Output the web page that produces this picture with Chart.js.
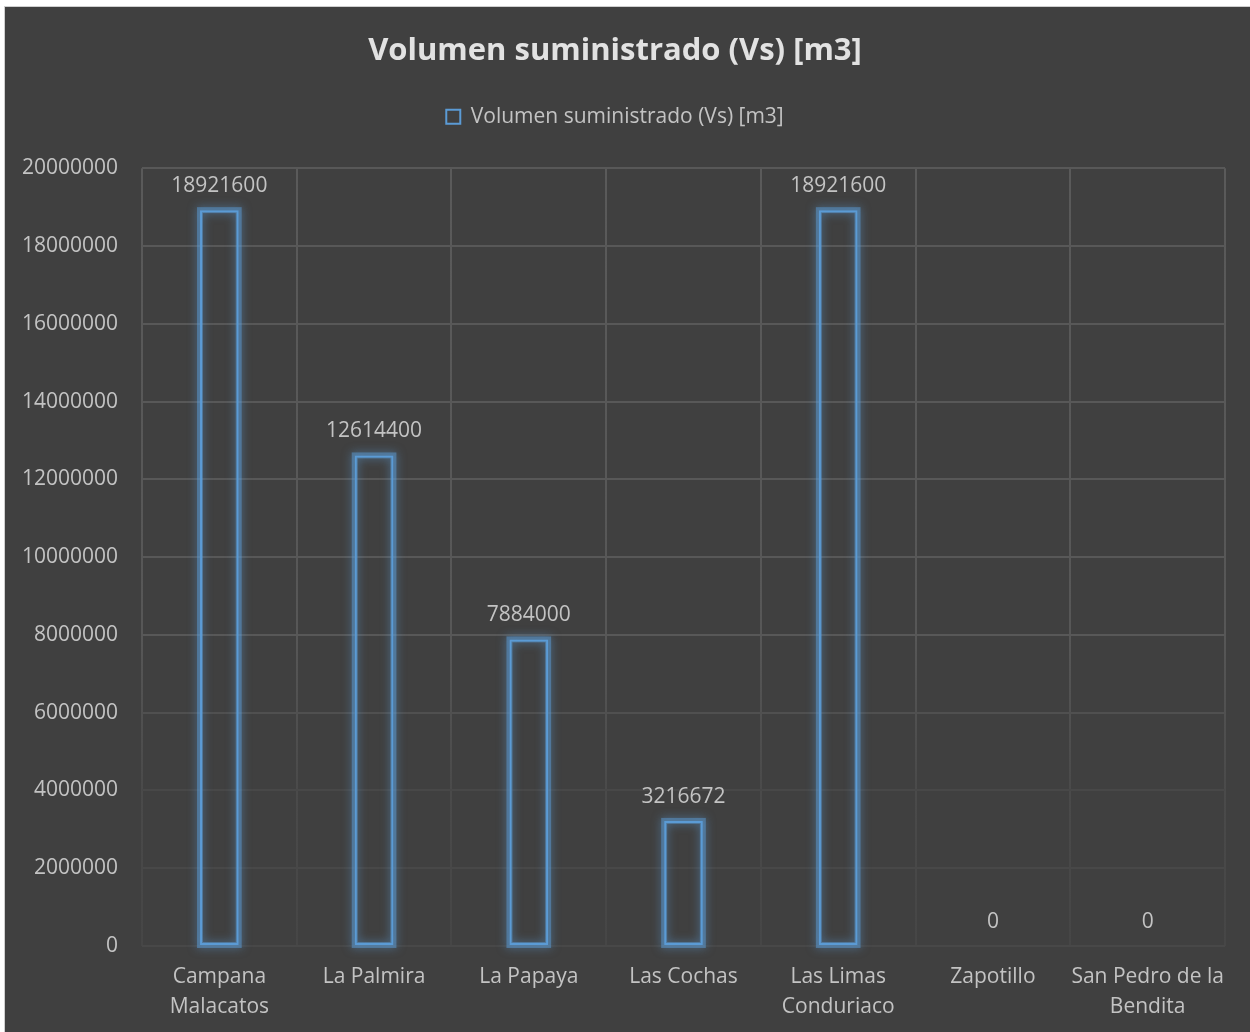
<!DOCTYPE html>
<html>
<head>
<meta charset="utf-8">
<script src="https://cdn.jsdelivr.net/npm/chart.js@4.4.1/dist/chart.umd.min.js"></script>
<style>
  html, body { margin: 0; padding: 0; background: #ffffff; }
  #frame {
    position: absolute; left: 4px; top: 6px;
    width: 1246px; height: 1026px;
    border-left: 1px solid #cfcfcf; border-top: 1px solid #cfcfcf;
    background: #404040;
  }
  #wrap { position: absolute; left: 0; top: 0; width: 1246px; height: 1026px; }
</style>
</head>
<body>
<div id="frame"><div id="wrap"><canvas id="volChart"></canvas></div></div>
<script>
var chartTitle = 'Volumen suministrado (Vs) [m3]';
var seriesName = 'Volumen suministrado (Vs) [m3]';
var plantas = [
    ['Campana', 'Malacatos'],
    'La Palmira',
    'La Papaya',
    'Las Cochas',
    ['Las Limas', 'Conduriaco'],
    'Zapotillo',
    ['San Pedro de la', 'Bendita']
];
var volumenes = [18921600, 12614400, 7884000, 3216672, 18921600, 0, 0];
var yMin = 0, yMax = 20000000, yStep = 2000000;

var blue = '#5b9bd5';
var textGray = '#c3c3c3';

// extra room under the legend
var legendSpace = {
    id: 'legendSpace',
    beforeInit: function (chart) {
        var fitLegend = chart.legend.fit;
        chart.legend.fit = function () {
            fitLegend.bind(chart.legend)();
            this.height += 31;
        };
    }
};

// soft glow behind each bar outline
var barGlow = {
    id: 'barGlow',
    beforeDatasetsDraw: function (chart) {
        var ctx = chart.ctx;
        var meta = chart.getDatasetMeta(0);
        ctx.save();
        meta.data.forEach(function (bar, i) {
            if (!volumenes[i]) return;
            var p = bar.getProps(['x', 'y', 'base', 'width'], true);
            var left = p.x - p.width / 2, top = Math.min(p.y, p.base);
            var h = Math.abs(p.base - p.y);
            ctx.shadowColor = 'rgba(91,155,213,1)';
            ctx.shadowBlur = 10;
            ctx.strokeStyle = 'rgba(91,155,213,0.5)';
            ctx.lineWidth = 6;
            ctx.strokeRect(left, top, p.width, h);
        });
        ctx.restore();
    }
};

// value labels above bars
var barValues = {
    id: 'barValues',
    afterDatasetsDraw: function (chart) {
        var ctx = chart.ctx;
        var meta = chart.getDatasetMeta(0);
        ctx.save();
        ctx.font = '21px "Open Sans"';
        ctx.fillStyle = textGray;
        ctx.textAlign = 'center';
        ctx.textBaseline = 'middle';
        meta.data.forEach(function (bar, i) {
            ctx.fillText(String(volumenes[i]), bar.x, bar.y - 24);
        });
        ctx.restore();
    }
};

var ctx = document.getElementById('volChart').getContext('2d');

new Chart(ctx, {
    type: 'bar',
    data: {
        labels: plantas,
        datasets: [{
            label: seriesName,
            data: volumenes,
            backgroundColor: 'rgba(0,0,0,0)',
            borderColor: blue,
            borderWidth: function (c) { return volumenes[c.dataIndex] ? 2 : 0; },
            borderSkipped: false,
            barPercentage: 0.5,
            categoryPercentage: 0.5
        }]
    },
    options: {
        responsive: true,
        maintainAspectRatio: false,
        animation: false,
        layout: { padding: { top: 0, right: 26, bottom: 0, left: 0 } },
        plugins: {
            title: {
                display: true,
                text: chartTitle,
                color: '#e2e2e2',
                font: { family: 'Open Sans', size: 31, weight: 'bold' },
                padding: { top: 26, bottom: 26 }
            },
            legend: {
                position: 'top',
                labels: {
                    color: textGray,
                    font: { family: 'Open Sans', size: 21 },
                    boxWidth: 14,
                    boxHeight: 14,
                    padding: 10
                }
            },
            tooltip: { enabled: false }
        },
        scales: {
            x: {
                grid: {
                    drawTicks: false,
                    color: function (c) {
                        var a = c.chart.chartArea;
                        if (!a) return '#585858';
                        var g = c.chart.ctx.createLinearGradient(0, a.top, 0, a.bottom);
                        g.addColorStop(0, '#5a5a5a');
                        g.addColorStop(0.6, '#575757');
                        g.addColorStop(0.8, '#4a4a4a');
                        g.addColorStop(1, '#464646');
                        return g;
                    },
                    lineWidth: 2
                },
                border: { display: false },
                ticks: {
                    color: textGray,
                    font: { family: 'Open Sans', size: 21, lineHeight: 1.43 },
                    padding: 16,
                    maxRotation: 0,
                    autoSkip: false
                },
                afterFit: function (scale) { scale.height = 87; }
            },
            y: {
                min: yMin,
                max: yMax,
                grid: {
                    drawTicks: false,
                    lineWidth: 2,
                    color: function (c) {
                        var v = c.tick ? c.tick.value : 0;
                        if (v >= 8000000) return '#585858';
                        if (v >= 6000000) return '#505050';
                        return '#484848';
                    }
                },
                border: { display: false },
                ticks: {
                    stepSize: yStep,
                    color: textGray,
                    font: { family: 'Open Sans', size: 21 },
                    padding: 24,
                    callback: function (v) { return String(v); }
                },
                afterFit: function (scale) { scale.width = 137; }
            }
        }
    },
    plugins: [legendSpace, barGlow, barValues]
});
</script>
</body>
</html>
